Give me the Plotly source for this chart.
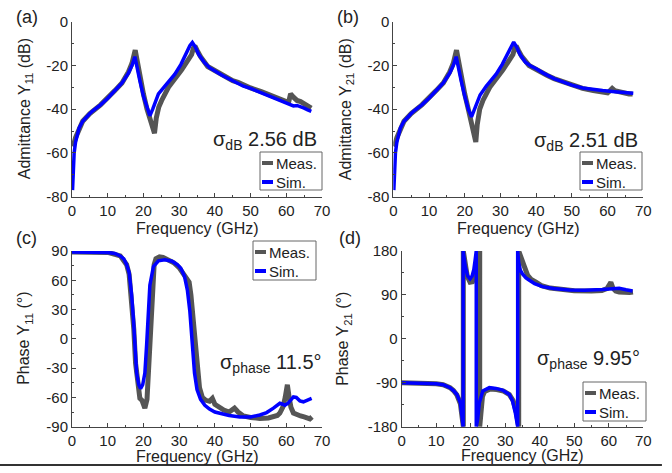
import plotly.graph_objects as go

W, H = 672, 473

# ---------------- data ----------------
# (a) Admittance Y11 (dB)
fa_meas = [0.15, 0.5, 1, 1.5, 2, 3, 5, 8, 12, 14, 15.8, 16.8, 17.7, 18.3, 19, 20, 21, 22, 22.6, 23.1, 23.6, 24.3, 25.1, 27, 30.7, 32.5, 33.5, 34, 34.4, 35, 36, 38, 40, 43, 45, 46.5, 48, 50, 53, 56, 58, 60, 60.7, 61.2, 62, 63, 64, 65, 66, 67]
ya_meas = [-57, -56, -53, -51, -48.5, -45.5, -42, -38, -31.5, -28, -23, -19, -13, -19, -26, -33, -40, -46, -49.5, -51, -44, -39, -36, -30, -22, -18, -15, -12, -11, -13, -16, -20.5, -22.5, -25, -27, -27.7, -29, -30.3, -32, -34, -35, -36.5, -36.5, -33, -34.5, -36, -36.5, -37.5, -38, -39.5]
fa_sim = [0.15, 0.3, 0.6, 1, 1.5, 2, 3, 4, 5, 6, 8, 10, 12, 14, 15.8, 16.8, 17.6, 18.2, 19, 20, 21, 21.8, 22.6, 23.4, 24.2, 26, 28.8, 30.5, 32.1, 33, 33.7, 34.5, 35.5, 37, 38.5, 40, 42, 45, 48, 50, 53, 56, 58, 60, 61, 62, 63, 64, 65, 66, 67]
ya_sim = [-77, -68, -60, -55, -51, -48.5, -45.5, -43.5, -42, -40.5, -38, -35, -31.5, -28, -23.5, -20, -16, -20, -27, -34, -39.5, -43, -40, -36, -33, -29.5, -24, -19.5, -14, -11, -9.5, -11.5, -15, -18.5, -21, -22.5, -24.5, -27, -29.5, -30.5, -32.5, -34.5, -36, -37, -38, -38.5, -38.3, -38.8, -39.5, -40.3, -41]

# (b) Admittance Y21 (dB)
fb_meas = [0.15, 0.5, 1, 1.5, 2, 3, 5, 8, 12, 14, 15.8, 16.8, 17.7, 18.3, 19, 20, 21, 22, 22.6, 23.1, 23.5, 24.2, 25.1, 27, 30.7, 32.5, 33.5, 34, 34.4, 35, 36, 38, 40, 43, 45, 46.5, 48, 50, 53, 56, 58, 60, 60.7, 61.3, 62, 63, 64, 65, 66, 67]
yb_meas = [-57, -56, -53, -51, -48.5, -45.5, -42, -38, -31.5, -28, -23, -19, -13, -19, -26, -33, -40, -47, -52, -55, -47, -40, -36, -30, -22, -18, -15, -12, -11, -13, -16, -20, -22, -24.5, -26, -26.8, -28, -29, -30.5, -31.5, -32, -32.5, -31.5, -30.5, -31.5, -32, -32.3, -32.5, -33, -33]
fb_sim = [0.15, 0.3, 0.6, 1, 1.5, 2, 3, 4, 5, 6, 8, 10, 12, 14, 15.8, 16.8, 17.6, 18.2, 19, 20, 21, 21.9, 22.7, 23.5, 24.3, 26, 28.8, 30.5, 32.1, 33, 33.7, 34.5, 35.5, 37, 38.5, 40, 42, 45, 48, 50, 53, 55, 58.6, 62, 64, 66, 67.2]
yb_sim = [-77, -68, -60, -55, -51, -48.5, -45.5, -43.5, -42, -40.5, -38, -35, -31.5, -28, -23.5, -20, -16, -20, -27, -34, -40, -43.5, -40.5, -36.5, -33.5, -29.5, -24, -19.5, -14, -11, -9.3, -11.5, -15, -18.5, -20.3, -21.5, -23.5, -26, -28, -29, -30.3, -30.8, -31.5, -32, -32.2, -32.4, -32.7]

# (c) Phase Y11 (deg)
fc_meas = [0, 5, 10, 13.5, 15.3, 16, 16.7, 17.3, 17.8, 18.4, 19, 19.6, 20.4, 21, 21.5, 22, 22.5, 23, 23.5, 24.5, 25.5, 27, 28.5, 30, 31, 32, 32.8, 33.3, 33.8, 34.3, 35, 35.7, 36.5, 37.5, 38.5, 39.3, 40, 41, 42.5, 44, 45.5, 46.5, 48, 50, 52.6, 55, 56.4, 57.5, 58.2, 59.1, 59.7, 60.3, 60.8, 61.3, 62, 63, 64, 65, 65.7, 66.6, 67.2]
yc_meas = [89, 89, 88.5, 85, 76, 66, 42, 10, -25, -50, -61, -63, -71, -62, -25, 15, 55, 76, 82, 84, 83.5, 81, 78, 73, 68, 64, 58, 45, 25, 0, -30, -50, -60, -63, -64, -61, -67, -70, -73, -75, -71, -75, -79, -80.5, -81.5, -81, -80, -78.5, -76, -69.5, -60, -47, -60, -70, -76, -78, -79, -80, -80.5, -82, -80]
fc_sim = [0, 5, 10, 12, 13.5, 14.5, 15.3, 16, 16.7, 17.2, 17.6, 18.1, 18.7, 19.2, 19.8, 20.4, 20.9, 21.4, 21.8, 22.8, 24.2, 26, 28, 29.5, 30.5, 31.5, 32.3, 33, 33.7, 34.3, 35, 36, 37.2, 38.5, 40, 42, 44, 47, 50, 52.6, 54.5, 56.4, 57.5, 58.2, 59, 59.6, 60.5, 61.3, 62, 62.8, 63.8, 64.8, 65.7, 66.4, 67.1]
yc_sim = [89, 89, 88.5, 87.5, 85, 82, 76, 68, 45, 20, -6, -35, -47, -51, -47, -35, -6, 28, 55, 74, 80, 81, 79.5, 76, 72, 64, 50, 28, -5, -35, -52, -62, -68, -72, -75, -77, -78.5, -80, -80, -78, -75.5, -71, -68, -66, -67, -68, -66, -63, -59.5, -60, -63.5, -64.5, -63.5, -62, -61]

# (d) Phase Y21 (deg)
fd_meas = [0, 5, 10, 12, 14, 15, 16, 17, 17.5, 17.85, 17.85, 18.4, 19, 19.8, 20.5, 21.2, 21.8, 22.3, 22.6, 22.6, 22.9, 23.4, 24, 25.5, 27.5, 29.5, 31.2, 32.3, 33.2, 33.9, 33.9, 34.5, 35.5, 36.5, 37.5, 38.9, 39.5, 40.5, 43, 46, 50, 55, 58, 59.5, 60.2, 60.6, 61.2, 62, 63, 64.5, 66, 67]
yd_meas = [-90, -90.5, -92, -94, -100, -106, -115, -133, -158, -180, 180, 152, 128, 116, 117, 128, 148, 170, 180, -180, -150, -118, -108, -103, -104, -107, -114, -127, -150, -180, 180, 170, 149, 130, 122, 116, 114, 109, 104, 101, 98.5, 98, 99, 103, 113, 116, 104, 98, 96, 95, 95, 96]
fd_sim = [0, 5, 10, 12, 14, 15, 16, 17, 17.5, 17.8, 17.8, 18.4, 19.1, 19.8, 20.4, 20.9, 21.3, 21.6, 21.6, 22.0, 22.5, 23.5, 25.4, 27.3, 29.2, 31.2, 32.1, 32.9, 33.6, 33.6, 33.9, 34.4, 35, 36, 37, 38.5, 40.8, 44, 48.6, 53, 58.2, 60.5, 63, 65, 66.9]
yd_sim = [-90, -90.5, -92, -94, -100, -106, -114, -131, -155, -180, 180, 149, 129, 123, 129, 142, 163, 180, -180, -165, -131, -107, -100, -101.5, -105, -114, -127, -151, -180, 180, 156, 140, 133, 125, 120, 113, 107, 103, 100, 99.5, 101, 102, 103.5, 100.5, 98]

x_ticks = [0, 10, 20, 30, 40, 50, 60, 70]
y_db_ticks = [-80, -60, -40, -20, 0]
y_p11_ticks = [-90, -60, -30, 0, 30, 60, 90]
y_p21_ticks = [-180, -90, 0, 90, 180]

series_names = ["Meas.", "Sim."]
labels = ["(a)", "(b)", "(c)", "(d)"]
y_titles = ["Admittance Y<sub>11</sub> (dB)", "Admittance Y<sub>21</sub> (dB)",
            "Phase Y<sub>11</sub> (°)", "Phase Y<sub>21</sub> (°)"]
sigma_texts = ["σ<sub>dB</sub> 2.56 dB", "σ<sub>dB</sub> 2.51 dB",
               "σ<sub>phase</sub> 11.5°", "σ<sub>phase</sub> 9.95°"]
x_title = "Frequency (GHz)"

# ---------------- styling / layout ----------------
FONT = "Liberation Sans, Arial, sans-serif"
TXT = "#222222"
AX = "#444444"
GRAY = "#555555"
BLUE = "#0000ff"
COLORS = [GRAY, BLUE]
WIDTHS = [5, 3.5]


def px_x(p):
    return p / W


def px_y(p):
    return 1 - p / H


# pixel boxes: (left, right, top, bottom)
boxes = [(72, 322, 21.7, 196.7), (393.3, 643.3, 21.7, 196.7),
         (72, 322, 251, 426.7), (401.7, 643.3, 251, 426.7)]
y_ranges = [[-80, 0], [-80, 0], [-90, 90], [-180, 180]]
y_tickvals = [y_db_ticks, y_db_ticks, y_p11_ticks, y_p21_ticks]
y_minor = [10, 10, 15, 45]
data = [(fa_meas, ya_meas, fa_sim, ya_sim), (fb_meas, yb_meas, fb_sim, yb_sim),
        (fc_meas, yc_meas, fc_sim, yc_sim), (fd_meas, yd_meas, fd_sim, yd_sim)]
legend_box = [(260, 152, 322, 190), (580, 152, 642, 190),
              (253, 241, 316, 280), (583, 382, 646, 421)]
sigma_pos = [(319, 140), (640, 141), (324, 363), (642, 359)]
label_pos = [(14, 17), (335, 17), (14, 238), (337, 238)]
ytitle_x = [25, 346, 25, 344]
xtitle_y = [228, 228, 456, 455]

fig = go.Figure()
layout = dict(width=W, height=H, margin=dict(l=0, r=0, t=0, b=0),
              paper_bgcolor="white", plot_bgcolor="white", showlegend=False,
              font=dict(family=FONT, color=TXT, size=15), annotations=[], shapes=[])

for i in range(4):
    sfx = "" if i == 0 else str(i + 1)
    fm, ym, fs, ys = data[i]
    for k, (xx, yy) in enumerate([(fm, ym), (fs, ys)]):
        fig.add_trace(go.Scatter(x=xx, y=yy, mode="lines", name=series_names[k],
                                 line=dict(color=COLORS[k], width=WIDTHS[k]),
                                 xaxis="x" + sfx, yaxis="y" + sfx))
    l, r, t, b = boxes[i]
    layout["xaxis" + sfx] = dict(
        domain=[px_x(l), px_x(r)], anchor="y" + sfx, range=[0, 70],
        tickmode="array", tickvals=x_ticks, ticktext=[str(v) for v in x_ticks],
        ticks="inside", ticklen=4, tickcolor=AX, showline=True, linecolor=AX,
        linewidth=1, showgrid=False, zeroline=False, automargin=False,
        tickfont=dict(size=15, color=TXT),
        minor=dict(ticks="inside", ticklen=2, tickcolor=AX, dtick=5, showgrid=False))
    yt = y_tickvals[i]
    layout["yaxis" + sfx] = dict(
        domain=[px_y(b), px_y(t)], anchor="x" + sfx, range=y_ranges[i],
        tickmode="array", tickvals=yt, ticktext=[str(v) for v in yt],
        ticks="inside", ticklen=4, tickcolor=AX, showline=True, linecolor=AX,
        linewidth=1, showgrid=False, zeroline=False, automargin=False,
        tickfont=dict(size=15, color=TXT),
        minor=dict(ticks="inside", ticklen=2, tickcolor=AX, dtick=y_minor[i], showgrid=False))

    # legend box (drawn)
    bx0, by0, bx1, by1 = legend_box[i]
    layout["shapes"].append(dict(type="rect", xref="paper", yref="paper",
                                 x0=px_x(bx0), x1=px_x(bx1), y0=px_y(by1), y1=px_y(by0),
                                 fillcolor="white", line=dict(color="#666666", width=1)))
    for k in range(2):
        rowy = by0 + 11 + k * 19
        layout["shapes"].append(dict(type="line", xref="paper", yref="paper",
                                     x0=px_x(bx0 + 2), x1=px_x(bx0 + 13),
                                     y0=px_y(rowy), y1=px_y(rowy),
                                     line=dict(color=COLORS[k], width=4)))
        layout["annotations"].append(dict(
            x=px_x(bx0 + 14), y=px_y(rowy), xref="paper", yref="paper",
            text=series_names[k], showarrow=False, xanchor="left", yanchor="middle",
            font=dict(size=15, color=TXT)))

    # axis titles
    layout["annotations"].append(dict(
        x=px_x((l + r) / 2), y=px_y(xtitle_y[i]), xref="paper", yref="paper",
        text=x_title, showarrow=False, xanchor="center", yanchor="middle",
        font=dict(size=16, color=TXT)))
    layout["annotations"].append(dict(
        x=px_x(ytitle_x[i]), y=px_y((t + b) / 2), xref="paper", yref="paper",
        text=y_titles[i], showarrow=False, textangle=-90, xanchor="center",
        yanchor="middle", font=dict(size=16, color=TXT)))
    sx, sy = sigma_pos[i]
    layout["annotations"].append(dict(
        x=px_x(sx), y=px_y(sy), xref="paper", yref="paper", text=sigma_texts[i],
        showarrow=False, xanchor="right", yanchor="middle",
        font=dict(size=20, color=TXT)))
    gx, gy = label_pos[i]
    layout["annotations"].append(dict(
        x=px_x(gx), y=px_y(gy), xref="paper", yref="paper", text=labels[i],
        showarrow=False, xanchor="left", yanchor="middle",
        font=dict(size=18, color=TXT)))

layout["shapes"].append(dict(type="line", xref="paper", yref="paper",
                             x0=0.0, x1=0.985, y0=px_y(465), y1=px_y(465),
                             line=dict(color="#333333", width=2)))

fig.update_layout(**layout)
fig.write_html("out.html", config={"displayModeBar": False},
               post_script="document.body.style.margin='0';document.body.style.overflow='hidden';")
